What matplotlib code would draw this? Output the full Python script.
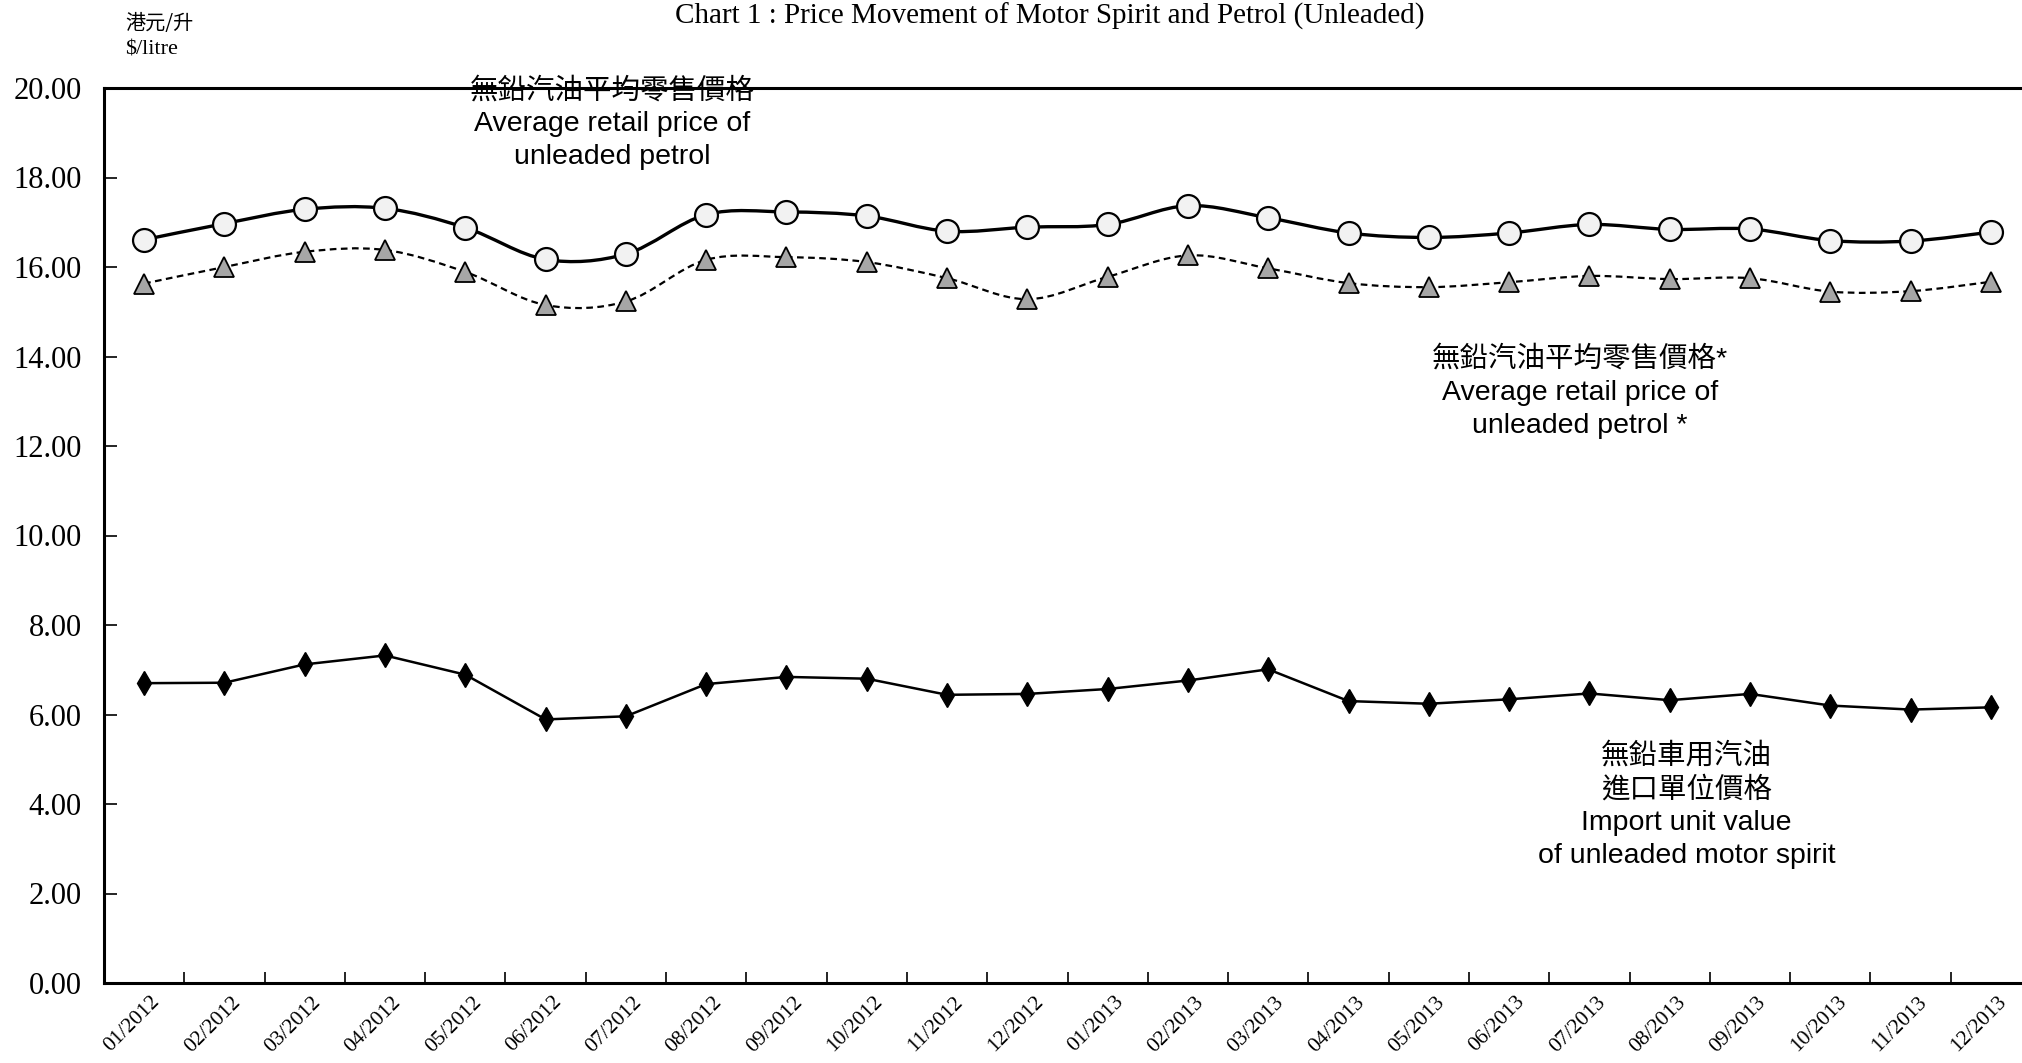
import numpy as np
import matplotlib
matplotlib.use("Agg")
import matplotlib.pyplot as plt
from matplotlib.path import Path
from matplotlib.patches import PathPatch

months = ["01/2012", "02/2012", "03/2012", "04/2012", "05/2012", "06/2012",
          "07/2012", "08/2012", "09/2012", "10/2012", "11/2012", "12/2012",
          "01/2013", "02/2013", "03/2013", "04/2013", "05/2013", "06/2013",
          "07/2013", "08/2013", "09/2013", "10/2013", "11/2013", "12/2013"]

# average retail price of unleaded petrol
retail = [16.61, 16.97, 17.29, 17.31, 16.88, 16.17, 16.29, 17.17, 17.23, 17.14, 16.80, 16.89,
          16.95, 17.37, 17.10, 16.76, 16.66, 16.76, 16.95, 16.84, 16.85, 16.59, 16.58, 16.78]

# average retail price of unleaded petrol * (after discounts)
retail_star = [15.63, 16.00, 16.34, 16.38, 15.89, 15.15, 15.23, 16.16, 16.22, 16.11, 15.75, 15.28,
               15.78, 16.26, 15.97, 15.64, 15.55, 15.66, 15.80, 15.73, 15.75, 15.45, 15.46, 15.67]

# import unit value of unleaded motor spirit
import_val = [6.70, 6.71, 7.12, 7.32, 6.89, 5.89, 5.96, 6.68, 6.84, 6.80, 6.44, 6.46,
              6.57, 6.76, 7.01, 6.30, 6.24, 6.34, 6.47, 6.32, 6.46, 6.20, 6.11, 6.16]

yticks = np.arange(0, 20.01, 2.0)

SERIF = "Liberation Serif"
SANS = ["Liberation Sans", "Noto Sans CJK TC", "DejaVu Sans"]
CJK = ["Noto Sans CJK TC", "Liberation Sans"]


def smooth_path(x, y, t=1.0 / 6):
  # excel style smoothed line: catmull-rom turned into cubic beziers
  x = np.asarray(x, float)
  y = np.asarray(y, float)
  n = len(x)
  verts = [(x[0], y[0])]
  codes = [Path.MOVETO]
  for i in range(n - 1):
    p0 = i - 1 if i > 0 else i
    p3 = i + 2 if i + 2 < n else i + 1
    c1 = (x[i] + (x[i + 1] - x[p0]) * t, y[i] + (y[i + 1] - y[p0]) * t)
    c2 = (x[i + 1] - (x[p3] - x[i]) * t, y[i + 1] - (y[p3] - y[i]) * t)
    verts += [c1, c2, (x[i + 1], y[i + 1])]
    codes += [Path.CURVE4] * 3
  return Path(verts, codes)


fig = plt.figure(figsize=(20.22, 10.63), dpi=100)
# axes run a bit past the right edge, like the scan
ax = fig.add_axes([104 / 2022, 1 - 983 / 1063, 1927 / 2022, 895 / 1063])

x = np.arange(len(months))

ax.add_patch(PathPatch(smooth_path(x, retail), fill=False, lw=2.4, color="black", zorder=2))
ax.plot(x, retail, ls="none", marker="o", ms=16.5, mfc="#f2f2f2", mec="black", mew=1.6, zorder=3)

ax.add_patch(PathPatch(smooth_path(x, retail_star), fill=False, lw=1.6, color="black",
                       linestyle=(0, (3, 2)), zorder=2))
ax.plot(x, retail_star, ls="none", marker="^", ms=14, mfc="#a6a6a6", mec="black", mew=1.3, zorder=3)

ax.plot(x, import_val, color="black", lw=1.8, marker="d", ms=12, mfc="black", mec="black", zorder=3)

ax.set_xlim(-0.5, len(months) - 0.5)
ax.set_ylim(0, 20)
ax.set_yticks(yticks)
ax.set_yticklabels([f"{v:.2f}" for v in yticks], fontfamily=SERIF, fontsize=22)
ax.tick_params(axis="y", direction="in", length=9, width=1.2, pad=16)

# category labels under the middle, ticks between categories
ax.set_xticks(x + 0.08)
ax.set_xticklabels(months, rotation=45, ha="right", rotation_mode="anchor",
                   fontfamily=SERIF, fontsize=15.5)
ax.tick_params(axis="x", which="major", length=0, pad=7)
ax.set_xticks(np.arange(0.5, len(months) - 0.5, 1.0), minor=True)
ax.tick_params(axis="x", which="minor", direction="in", length=8, width=1.2)

for side in ["left", "bottom", "top"]:
  ax.spines[side].set_linewidth(2.2)
ax.spines["right"].set_visible(False)

fig.text(0.519, 0.997, "Chart 1 : Price Movement of Motor Spirit and Petrol (Unleaded)",
         ha="center", va="top", fontfamily=SERIF, fontsize=21)
fig.text(125 / 2022, 1 - 23 / 1063, "港元/升", ha="left", va="center", family=CJK, fontsize=14.5)
fig.text(125 / 2022, 1 - 50 / 1063, "$/litre", ha="left", va="center", fontfamily=SERIF, fontsize=16)

ax.text(5.83, 19.2, "無鉛汽油平均零售價格\nAverage retail price of\nunleaded petrol",
        ha="center", va="center", family=SANS, fontsize=20.5, linespacing=1.35)
ax.text(17.88, 13.2, "無鉛汽油平均零售價格*\nAverage retail price of\nunleaded petrol *",
        ha="center", va="center", family=SANS, fontsize=20.5, linespacing=1.35)
ax.text(19.21, 3.96, "無鉛車用汽油\n進口單位價格\nImport unit value\nof unleaded motor spirit",
        ha="center", va="center", family=SANS, fontsize=20.5, linespacing=1.35)

fig.savefig("out.png", dpi=100, facecolor="white")
